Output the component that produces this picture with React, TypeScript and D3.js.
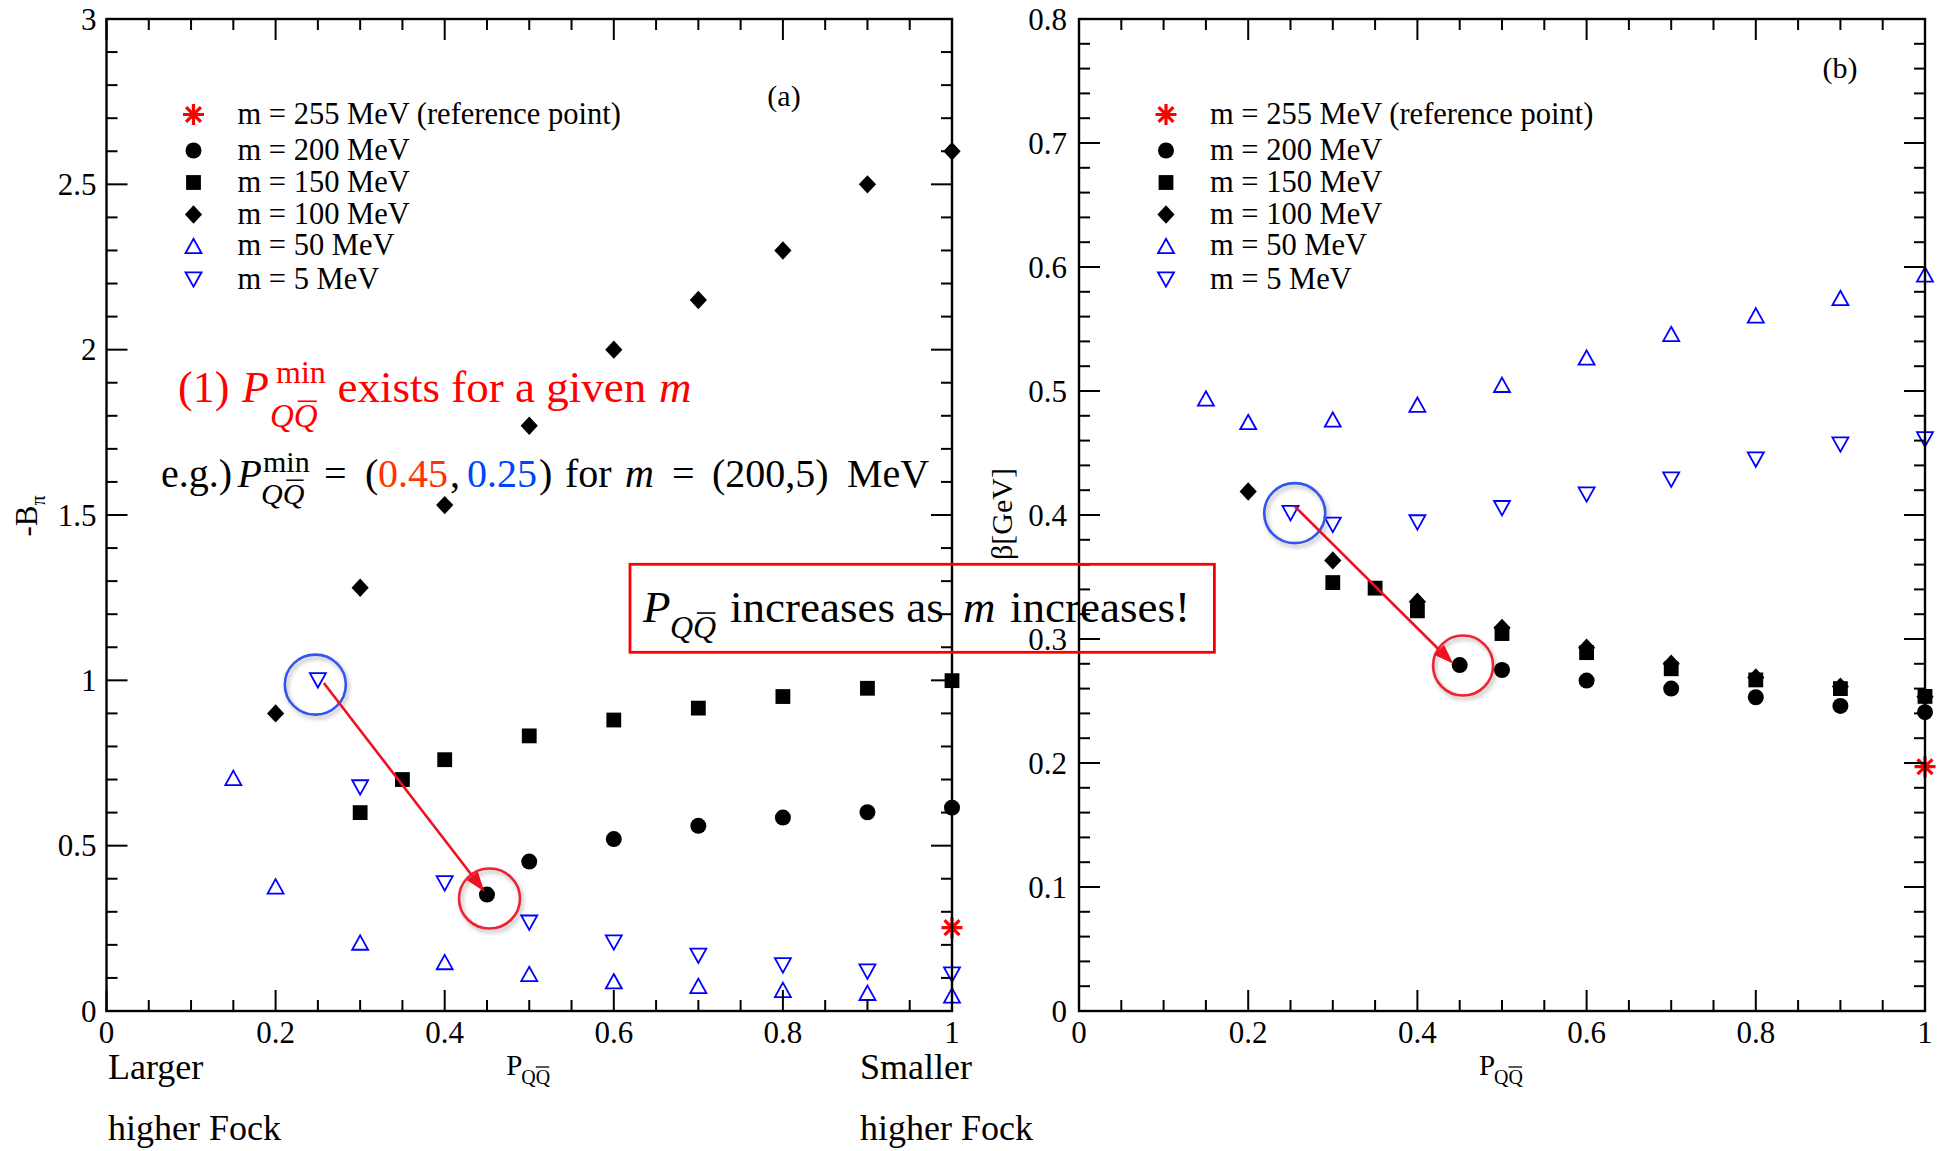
import React from 'react';
import * as d3 from 'd3';

// ---------- data ----------
const xTickLabels = ['0', '0.2', '0.4', '0.6', '0.8', '1'];
const yTickLabelsA = ['0', '0.5', '1', '1.5', '2', '2.5', '3'];
const yTickLabelsB = ['0', '0.1', '0.2', '0.3', '0.4', '0.5', '0.6', '0.7', '0.8'];

// Panel (a): -B_pi vs P_QQbar
const P_m200 = [0.45, 0.5, 0.6, 0.7, 0.8, 0.9, 1.0];
const B_m200 = [0.352, 0.452, 0.52, 0.56, 0.585, 0.601, 0.615];
const P_m150 = [0.3, 0.35, 0.4, 0.5, 0.6, 0.7, 0.8, 0.9, 1.0];
const B_m150 = [0.6, 0.7, 0.76, 0.832, 0.88, 0.916, 0.951, 0.976, 0.999];
const P_m100 = [0.2, 0.3, 0.4, 0.5, 0.6, 0.7, 0.8, 0.9, 1.0];
const B_m100 = [0.9, 1.28, 1.53, 1.77, 2.0, 2.15, 2.3, 2.5, 2.6];
const P_m50 = [0.15, 0.2, 0.3, 0.4, 0.5, 0.6, 0.7, 0.8, 0.9, 1.0];
const B_m50 = [0.705, 0.377, 0.207, 0.148, 0.112, 0.09, 0.076, 0.064, 0.055, 0.047];
const P_m5 = [0.25, 0.3, 0.4, 0.5, 0.6, 0.7, 0.8, 0.9, 1.0];
const B_m5 = [1.0, 0.676, 0.386, 0.267, 0.207, 0.167, 0.138, 0.119, 0.11];
const P_ref = [1.0];
const B_ref = [0.252];

// Panel (b): beta [GeV] vs P_QQbar
const beta_m200 = [0.279, 0.275, 0.2665, 0.26, 0.253, 0.246, 0.241];
const beta_m150 = [0.3455, 0.341, 0.3227, 0.3044, 0.289, 0.276, 0.267, 0.26, 0.2537];
const beta_m100 = [0.419, 0.3634, 0.33, 0.309, 0.293, 0.28, 0.269, 0.2616, 0.2534];
const beta_m50 = [0.494, 0.475, 0.477, 0.489, 0.505, 0.527, 0.546, 0.561, 0.575, 0.594];
const beta_m5 = [0.4015, 0.392, 0.394, 0.4055, 0.4165, 0.4285, 0.4447, 0.4568, 0.461];
const beta_ref = [0.197];

const legendLabels = [
  'm = 255 MeV (reference point)',
  'm = 200 MeV',
  'm = 150 MeV',
  'm = 100 MeV',
  'm = 50 MeV',
  'm = 5 MeV',
];
const legendTypes = ['star', 'circle', 'square', 'diamond', 'triup', 'tridown'];

// ---------- styling ----------
const SERIF = '"Liberation Serif", "Times New Roman", serif';
const BLUE = '#0000ff';
const RED = '#ff0000';

type MType = 'star' | 'circle' | 'square' | 'diamond' | 'triup' | 'tridown';

function Marker({ t, x, y }: { t: MType; x: number; y: number }) {
  switch (t) {
    case 'circle':
      return <circle cx={x} cy={y} r={8} fill="#000" />;
    case 'square':
      return <rect x={x - 7.4} y={y - 7.4} width={14.8} height={14.8} fill="#000" />;
    case 'diamond':
      return <path d={`M${x},${y - 9.2}L${x + 8.6},${y}L${x},${y + 9.2}L${x - 8.6},${y}Z`} fill="#000" />;
    case 'triup':
      return (
        <path d={`M${x},${y - 7.2}L${x + 8},${y + 7.2}L${x - 8},${y + 7.2}Z`} fill="none" stroke={BLUE} strokeWidth={1.8} />
      );
    case 'tridown':
      return (
        <path d={`M${x - 8},${y - 7.2}L${x + 8},${y - 7.2}L${x},${y + 7.2}Z`} fill="none" stroke={BLUE} strokeWidth={1.8} />
      );
    case 'star': {
      const r = 10.5;
      const d = [0, 45, 90, 135]
        .map((a) => {
          const rad = (a * Math.PI) / 180;
          const dx = r * Math.cos(rad);
          const dy = r * Math.sin(rad);
          return `M${x - dx},${y - dy}L${x + dx},${y + dy}`;
        })
        .join('');
      return <path d={d} stroke={RED} strokeWidth={3.2} fill="none" />;
    }
  }
  return null;
}

type Series = { t: MType; xs: number[]; ys: number[] };

type PanelCfg = {
  x0: number;
  x1: number;
  yTop: number;
  yBot: number;
  yMax: number;
  yMajor: number;
  yMinor: number;
  yLabels: string[];
  yLabelGap: number;
  series: Series[];
  tag: string;
  tagX: number;
  tagY: number;
};

function Panel({ cfg }: { cfg: PanelCfg }) {
  const x = d3.scaleLinear().domain([0, 1]).range([cfg.x0, cfg.x1]);
  const y = d3.scaleLinear().domain([0, cfg.yMax]).range([cfg.yBot, cfg.yTop]);
  const majL = 21;
  const minL = 11;
  const xTicks = d3.range(0, 21).map((i) => i * 0.05);
  const nY = Math.round(cfg.yMax / cfg.yMinor);
  const yTicks = d3.range(0, nY + 1).map((i) => i * cfg.yMinor);
  const isMajX = (v: number) => Math.abs(v / 0.2 - Math.round(v / 0.2)) < 1e-6;
  const isMajY = (v: number) => Math.abs(v / cfg.yMajor - Math.round(v / cfg.yMajor)) < 1e-6;

  const legRows = [114.5, 150.5, 182.5, 214.5, 246, 279.5];

  return (
    <g>
      {/* data markers */}
      {cfg.series.map((s, si) => (
        <g key={si}>
          {s.xs.map((xv, i) => (
            <Marker key={i} t={s.t} x={x(xv)} y={y(s.ys[i])} />
          ))}
        </g>
      ))}
      {/* frame */}
      <rect
        x={cfg.x0}
        y={cfg.yTop}
        width={cfg.x1 - cfg.x0}
        height={cfg.yBot - cfg.yTop}
        fill="none"
        stroke="#000"
        strokeWidth={2.4}
      />
      {/* x ticks bottom & top */}
      {xTicks.map((v, i) => {
        const L = isMajX(v) ? majL : minL;
        const px = x(v);
        return (
          <g key={'xt' + i} stroke="#000" strokeWidth={2}>
            <line x1={px} x2={px} y1={cfg.yBot} y2={cfg.yBot - L} />
            <line x1={px} x2={px} y1={cfg.yTop} y2={cfg.yTop + L} />
          </g>
        );
      })}
      {yTicks.map((v, i) => {
        const L = isMajY(v) ? majL : minL;
        const py = y(v);
        return (
          <g key={'yt' + i} stroke="#000" strokeWidth={2}>
            <line x1={cfg.x0} x2={cfg.x0 + L} y1={py} y2={py} />
            <line x1={cfg.x1} x2={cfg.x1 - L} y1={py} y2={py} />
          </g>
        );
      })}
      {/* tick labels */}
      {xTickLabels.map((lab, i) => (
        <text
          key={'xl' + i}
          x={x(i * 0.2)}
          y={cfg.yBot + 31.5}
          textAnchor="middle"
          fontFamily={SERIF}
          fontSize={31}
        >
          {lab}
        </text>
      ))}
      {cfg.yLabels.map((lab, i) => (
        <text
          key={'yl' + i}
          x={cfg.x0 - cfg.yLabelGap}
          y={y(i * cfg.yMajor) + 10.5}
          textAnchor="end"
          fontFamily={SERIF}
          fontSize={31}
        >
          {lab}
        </text>
      ))}
      {/* x axis label */}
      <g fontFamily={SERIF}>
        <text x={(cfg.x0 + cfg.x1) / 2 - 23} y={1074.5} fontSize={29}>
          P
        </text>
        <text x={(cfg.x0 + cfg.x1) / 2 - 8} y={1084} fontSize={20}>
          QQ
        </text>
        <line
          x1={(cfg.x0 + cfg.x1) / 2 + 6.5}
          x2={(cfg.x0 + cfg.x1) / 2 + 20}
          y1={1067}
          y2={1067}
          stroke="#000"
          strokeWidth={1.3}
        />
      </g>
      {/* legend */}
      {legendLabels.map((lab, i) => (
        <g key={'lg' + i}>
          <Marker t={legendTypes[i] as MType} x={cfg.x0 + 87} y={legRows[i]} />
          <text x={cfg.x0 + 131} y={legRows[i] + 9} fontFamily={SERIF} fontSize={30.5}>
            {lab}
          </text>
        </g>
      ))}
      <text x={cfg.tagX} y={cfg.tagY + 10} textAnchor="middle" fontFamily={SERIF} fontSize={30}>
        {cfg.tag}
      </text>
    </g>
  );
}

function QQbar({ x, y, size, color }: { x: number; y: number; size: number; color: string }) {
  // italic Q Q with bar over the second Q
  const qw = size * 0.72;
  return (
    <g>
      <text x={x} y={y} fontFamily={SERIF} fontStyle="italic" fontSize={size} fill={color}>
        QQ
      </text>
      <line
        x1={x + qw + size * 0.12}
        x2={x + 2 * qw - size * 0.02}
        y1={y - size * 0.78}
        y2={y - size * 0.78}
        stroke={color}
        strokeWidth={size * 0.05}
      />
    </g>
  );
}

export default function App() {
  const A: PanelCfg = {
    x0: 106.5,
    x1: 952,
    yTop: 19,
    yBot: 1011,
    yMax: 3,
    yMajor: 0.5,
    yMinor: 0.1,
    yLabels: yTickLabelsA,
    yLabelGap: 10,
    tag: '(a)',
    tagX: 784,
    tagY: 96,
    series: [
      { t: 'diamond', xs: P_m100, ys: B_m100 },
      { t: 'square', xs: P_m150, ys: B_m150 },
      { t: 'circle', xs: P_m200, ys: B_m200 },
      { t: 'triup', xs: P_m50, ys: B_m50 },
      { t: 'tridown', xs: P_m5, ys: B_m5 },
      { t: 'star', xs: P_ref, ys: B_ref },
    ],
  };
  const B: PanelCfg = {
    x0: 1079,
    x1: 1925,
    yTop: 19,
    yBot: 1011,
    yMax: 0.8,
    yMajor: 0.1,
    yMinor: 0.02,
    yLabels: yTickLabelsB,
    yLabelGap: 12,
    tag: '(b)',
    tagX: 1840,
    tagY: 68,
    series: [
      { t: 'diamond', xs: P_m100, ys: beta_m100 },
      { t: 'square', xs: P_m150, ys: beta_m150 },
      { t: 'circle', xs: P_m200, ys: beta_m200 },
      { t: 'triup', xs: P_m50, ys: beta_m50 },
      { t: 'tridown', xs: P_m5, ys: beta_m5 },
      { t: 'star', xs: P_ref, ys: beta_ref },
    ],
  };

  const xa = d3.scaleLinear().domain([0, 1]).range([A.x0, A.x1]);
  const ya = d3.scaleLinear().domain([0, A.yMax]).range([A.yBot, A.yTop]);
  const xb = d3.scaleLinear().domain([0, 1]).range([B.x0, B.x1]);
  const yb = d3.scaleLinear().domain([0, B.yMax]).range([B.yBot, B.yTop]);

  const circBlue = '#3355ee';
  const circRed = '#ee2233';
  const arrowRed = '#ee1122';

  const arrow = (x1: number, y1: number, x2: number, y2: number) => {
    const ang = Math.atan2(y2 - y1, x2 - x1);
    const hl = 20;
    const hw = 7;
    const bx = x2 - hl * Math.cos(ang);
    const by = y2 - hl * Math.sin(ang);
    const px = -Math.sin(ang) * hw;
    const py = Math.cos(ang) * hw;
    return (
      <g>
        <line x1={x1} y1={y1} x2={bx} y2={by} stroke={arrowRed} strokeWidth={2.6} />
        <path d={`M${x2},${y2}L${bx + px},${by + py}L${bx - px},${by - py}Z`} fill={arrowRed} />
      </g>
    );
  };

  return (
    <svg
      width={1944}
      height={1151}
      style={{ position: 'absolute', left: 0, top: 0, background: '#fff' }}
      fontFamily={SERIF}
    >
      <defs>
        <filter id="sh" x="-30%" y="-30%" width="160%" height="160%">
          <feDropShadow dx={2} dy={3} stdDeviation={2} floodColor="#000" floodOpacity={0.3} />
        </filter>
      </defs>
      <rect x={0} y={0} width={1944} height={1151} fill="#fff" />
      <Panel cfg={A} />
      <Panel cfg={B} />

      {/* y axis labels */}
      <g transform="translate(37,516) rotate(-90)">
        <text textAnchor="middle" fontFamily={SERIF} fontSize={31}>
          -B
          <tspan fontSize={20} dy={8}>
            π
          </tspan>
        </text>
      </g>
      <g transform="translate(1012,514) rotate(-90)">
        <text textAnchor="middle" fontFamily={SERIF} fontSize={30}>
          β[GeV]
        </text>
      </g>

      {/* bottom notes */}
      <g fontFamily={SERIF} fontSize={36}>
        <text x={108} y={1079}>Larger</text>
        <text x={108} y={1140}>higher Fock</text>
        <text x={860} y={1079}>Smaller</text>
        <text x={860} y={1140}>higher Fock</text>
      </g>

      {/* annotation line 1 */}
      <g fill={RED} fontFamily={SERIF}>
        <text x={178} y={401.8} fontSize={44}>(1)</text>
        <text x={242} y={401.8} fontSize={44} fontStyle="italic">P</text>
        <text x={276} y={383} fontSize={32}>min</text>
        <QQbar x={270} y={427} size={33} color={RED} />
        <text x={337.5} y={401.8} fontSize={45}>exists for a given</text>
        <text x={659} y={401.8} fontSize={45} fontStyle="italic">m</text>
      </g>

      {/* annotation line 2 */}
      <g fontFamily={SERIF} fontSize={40}>
        <text x={161} y={487}>e.g.)</text>
        <text x={237.5} y={487} fontStyle="italic">P</text>
        <text x={263} y={472} fontSize={30}>min</text>
        <QQbar x={261} y={503.6} size={30} color="#000" />
        <text x={324} y={487}>=</text>
        <text x={365} y={487}>(</text>
        <text x={378} y={487} fill="#ff3300">0.45</text>
        <text x={450} y={487}>,</text>
        <text x={467} y={487} fill="#0044ff">0.25</text>
        <text x={539} y={487}>)</text>
        <text x={565} y={487}>for</text>
        <text x={625} y={487} fontStyle="italic">m</text>
        <text x={672} y={487}>=</text>
        <text x={712} y={487}>(200,5)</text>
        <text x={847} y={487}>MeV</text>
      </g>

      {/* circles & arrows */}
      <g filter="url(#sh)" fill="none" strokeWidth={2.6}>
        <ellipse cx={xa(0.247)} cy={ya(0.987)} rx={30.5} ry={30} stroke={circBlue} />
        <ellipse cx={xa(0.453)} cy={ya(0.34)} rx={30.5} ry={30} stroke={circRed} />
        <ellipse cx={xb(0.255)} cy={yb(0.4015)} rx={30.5} ry={30} stroke={circBlue} />
        <ellipse cx={xb(0.454)} cy={yb(0.2786)} rx={30} ry={30} stroke={circRed} />
      </g>
      {arrow(xa(0.257), ya(0.992), xa(0.447), ya(0.361))}
      {arrow(xb(0.255), yb(0.407), xb(0.4424), yb(0.28))}

      {/* boxed statement */}
      <rect x={630} y={564.3} width={584.4} height={88} fill="none" stroke={RED} strokeWidth={2.8} />
      <g fontFamily={SERIF}>
        <text x={643} y={621.7} fontSize={45} fontStyle="italic">P</text>
        <QQbar x={670} y={638} size={32} color="#000" />
        <text x={730} y={621.7} fontSize={45}>increases as</text>
        <text x={963} y={621.7} fontSize={45} fontStyle="italic">m</text>
        <text x={1010} y={621.7} fontSize={45}>increases!</text>
      </g>
    </svg>
  );
}
